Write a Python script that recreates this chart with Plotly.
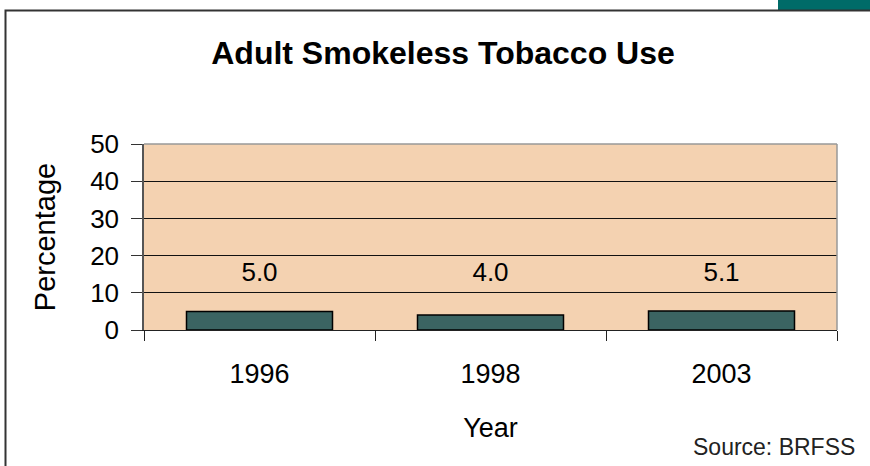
import plotly.graph_objects as go

# ---- data ----
years = ["1996", "1998", "2003"]
percent = [5.0, 4.0, 5.1]
y_ticks = [0, 10, 20, 30, 40, 50]
label_level = 15.0  # height at which value labels are written (data units)

# ---- layout geometry ----
W, H = 870, 466
L, R, T, B = 144, 33, 144, 136
PW, PH = W - L - R, H - T - B
FONT = "Arial, 'Liberation Sans', sans-serif"


def px_x(x):
    return (x - L) / PW


def px_y(y):
    return (H - B - y) / PH


fig = go.Figure(
    go.Bar(
        x=years,
        y=percent,
        marker=dict(color="#3B6462", line=dict(color="#000000", width=1.5)),
        hoverinfo="skip",
    )
)

fig.add_trace(
    go.Scatter(
        x=years,
        y=[label_level] * len(years),
        mode="text",
        text=[f"{v:.1f}" for v in percent],
        textposition="middle center",
        textfont=dict(family=FONT, size=26, color="#000000"),
        hoverinfo="skip",
    )
)

fig.add_annotation(
    xref="paper", yref="paper", x=px_x(857), y=px_y(447),
    text="Source: BRFSS", showarrow=False, xanchor="right", yanchor="middle",
    font=dict(family=FONT, size=23, color="#222222"),
)

shapes = [
    # teal corner block
    dict(type="rect", xref="paper", yref="paper",
         x0=px_x(778), x1=px_x(880), y0=px_y(-5), y1=px_y(10),
         fillcolor="#006B68", line=dict(width=0), layer="below"),
    # outer frame
    dict(type="rect", xref="paper", yref="paper",
         x0=px_x(5.5), x1=px_x(900), y0=px_y(10.5), y1=px_y(520),
         fillcolor="rgba(0,0,0,0)", line=dict(color="#333333", width=2), layer="below"),
    # plot-area border top and right
    dict(type="line", xref="paper", yref="paper", x0=0, x1=1, y0=1, y1=1,
         line=dict(color="#999999", width=1.5), layer="above"),
    dict(type="line", xref="paper", yref="paper", x0=1, x1=1, y0=0, y1=1,
         line=dict(color="#999999", width=1.5), layer="above"),
]

fig.update_layout(
    width=W, height=H,
    margin=dict(l=L, r=R, t=T, b=B, pad=0),
    paper_bgcolor="#FFFFFF",
    plot_bgcolor="#F4D2B1",
    bargap=0.368,
    showlegend=False,
    shapes=shapes,
    title=dict(
        text="<b>Adult Smokeless Tobacco Use</b>",
        font=dict(family=FONT, size=32, color="#000000"),
        x=443 / W, xref="container", xanchor="center",
        y=1 - 53 / H, yref="container", yanchor="middle",
    ),
    font=dict(family=FONT, color="#000000"),
    xaxis=dict(
        type="category", categoryorder="array", categoryarray=years,
        range=[-0.5, len(years) - 0.5],
        showline=True, linecolor="#222222", linewidth=1,
        ticks="outside", tickson="boundaries", ticklen=10, tickcolor="#222222", tickwidth=1,
        ticklabelstandoff=20,
        tickfont=dict(family=FONT, size=27, color="#000000"),
        showgrid=False, zeroline=False,
        title=dict(text="Year", font=dict(family=FONT, size=27, color="#000000"), standoff=29),
    ),
    yaxis=dict(
        range=[0, 50], tickvals=y_ticks,
        showline=True, linecolor="#555555", linewidth=1.5,
        ticks="outside", ticklen=11, tickcolor="#333333", tickwidth=1,
        ticklabelstandoff=7,
        tickfont=dict(family=FONT, size=26, color="#000000"),
        showgrid=True, gridcolor="#111111", gridwidth=1, zeroline=False,
        title=dict(text="Percentage", font=dict(family=FONT, size=29, color="#000000"), standoff=26),
    ),
)

fig.write_html("out.html")
